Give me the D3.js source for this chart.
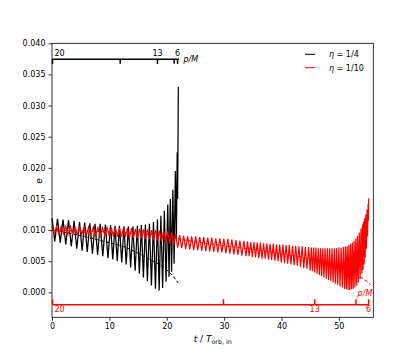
<!DOCTYPE html>
<html>
<head>
<meta charset="utf-8">
<script src="https://cdn.jsdelivr.net/npm/d3@7"></script>
<style>
body { margin: 0; background: #fff; }
text { font-family: "DejaVu Sans", sans-serif; }
</style>
</head>
<body>
<script>
// eccentricity vs time, eta = 1/4 (black) and eta = 1/10 (red)
const blackPts = [
  [0, .0119], [.48, .0082], [.96, .0118], [1.44, .0080], [1.92, .0117], [2.40, .0077],
  [2.88, .0116], [3.36, .0074], [3.84, .0115], [4.32, .0070], [4.80, .0113], [5.25, .0067],
  [5.70, .0112], [6.15, .0065], [6.60, .0111], [7.05, .0062], [7.50, .0110], [7.95, .0060],
  [8.40, .0110], [8.85, .0058], [9.30, .0109], [9.75, .0055], [10.20, .0108], [10.59, .0053],
  [10.98, .0107], [11.37, .0050], [11.76, .0107], [12.15, .0048], [12.54, .0106], [12.93, .0045],
  [13.32, .0106], [13.71, .0040], [14.10, .0106], [14.49, .0035], [14.88, .0107], [15.23, .0030],
  [15.58, .0108], [15.93, .0024], [16.28, .0109], [16.63, .0018], [16.98, .0110], [17.33, .0011],
  [17.68, .0113], [18.03, .0006], [18.38, .0117], [18.68, .0003], [18.98, .0123], [19.28, .0007],
  [19.58, .0131], [19.88, .0017], [20.18, .0141], [20.40, .0025], [20.62, .0150], [20.84, .0033],
  [21.06, .0165], [21.28, .0046], [21.50, .0195], [21.68, .0085], [21.82, .0225], [21.90, .0150],
  [22.02, .0330]
];

const redPts = [
  [0, .0106], [.4, .0094], [.8, .0106], [1.2, .0094], [1.6, .0106], [2.0, .0094], [2.4, .0106],
  [2.8, .0093], [3.2, .0106], [3.6, .0093], [4.0, .0105], [4.4, .0093], [4.8, .0105], [5.2, .0093],
  [5.6, .0105], [6.0, .0092], [6.4, .0105], [6.8, .0092], [7.2, .0105], [7.6, .0091], [8.0, .0104],
  [8.4, .0091], [8.8, .0104], [9.2, .0091], [9.6, .0104], [10.0, .0090],
  [10.35, .0104], [10.70, .0090], [11.05, .0104], [11.40, .0089], [11.75, .0103], [12.10, .0089],
  [12.45, .0103], [12.80, .0089], [13.15, .0103], [13.50, .0088], [13.85, .0103], [14.20, .0088],
  [14.55, .0102], [14.90, .0087], [15.25, .0102], [15.60, .0087], [15.95, .0101], [16.30, .0086],
  [16.65, .0101], [17.00, .0086], [17.35, .0100], [17.70, .0085], [18.05, .0100], [18.40, .0083],
  [18.75, .0099], [19.10, .0082], [19.45, .0099], [19.80, .0081], [20.15, .0098], [20.50, .0078],
  [20.85, .0096], [21.20, .0075], [21.55, .0094], [21.90, .0072], [22.25, .0092], [22.60, .0071],
  [22.95, .0091], [23.30, .0070], [23.65, .0090], [24.00, .0069], [24.35, .0090], [24.70, .0068],
  [25.05, .0090], [25.40, .0068], [25.75, .0089], [26.10, .0067], [26.45, .0089], [26.80, .0066],
  [27.15, .0088], [27.50, .0066], [27.85, .0088], [28.20, .0065], [28.55, .0087], [28.90, .0064],
  [29.25, .0087], [29.60, .0064], [29.95, .0086], [30.30, .0063], [30.65, .0086], [31.00, .0062],
  [31.35, .0085], [31.70, .0061], [32.05, .0084], [32.40, .0060], [32.75, .0083], [33.10, .0059],
  [33.45, .0083], [33.80, .0058],
  [34.08, .0082], [34.36, .0058], [34.64, .0081], [34.92, .0057], [35.20, .0081], [35.48, .0056],
  [35.76, .0080], [36.04, .0055], [36.32, .0080], [36.60, .0054], [36.88, .0079], [37.16, .0054],
  [37.44, .0079], [37.72, .0053], [38.00, .0078], [38.28, .0052], [38.56, .0078], [38.84, .0051],
  [39.12, .0077], [39.40, .0050], [39.68, .0077], [39.96, .0048], [40.24, .0077], [40.52, .0047],
  [40.80, .0076], [41.08, .0046], [41.36, .0076], [41.64, .0045], [41.92, .0075], [42.20, .0044],
  [42.48, .0075], [42.76, .0043], [43.04, .0074], [43.32, .0041], [43.60, .0074], [43.88, .0039],
  [44.16, .0073], [44.44, .0038], [44.72, .0073], [45.00, .0035],
  [45.2, .0072], [45.4, .0034], [45.6, .0072], [45.8, .0032], [46.0, .0072], [46.2, .0030],
  [46.4, .0071], [46.6, .0028], [46.8, .0071], [47.0, .0026], [47.2, .0071], [47.4, .0024],
  [47.6, .0071], [47.8, .0022], [48.0, .0071], [48.2, .0020], [48.4, .0071], [48.6, .0018],
  [48.8, .0071], [49.0, .0016], [49.2, .0071], [49.4, .0014], [49.6, .0071], [49.8, .0012],
  [50.0, .0072], [50.2, .0010], [50.4, .0072], [50.6, .0008], [50.8, .0073], [51.0, .0006],
  [51.15, .0074], [51.30, .0005], [51.45, .0074], [51.60, .0004], [51.75, .0076], [51.90, .0004],
  [52.05, .0078], [52.20, .0005], [52.35, .0080], [52.50, .0006], [52.65, .0083], [52.80, .0008],
  [52.95, .0087], [53.10, .0011], [53.25, .0091], [53.40, .0016], [53.55, .0096], [53.70, .0022],
  [53.85, .0102], [54.00, .0030],
  [54.10, .0109], [54.20, .0036], [54.30, .0114], [54.40, .0045], [54.50, .0119], [54.60, .0056],
  [54.70, .0125], [54.80, .0070], [54.90, .0133], [55.00, .0090], [55.10, .0142], [55.15, .0115],
  [55.20, .0151]
];

// secular (dashed) curves
const blackTrend = [[0, .0100], [3, .0095], [6, .0089], [9, .0082], [12, .0075], [15, .0063],
  [17, .0053], [18.5, .0046], [20, .0036], [21, .0027], [22, .0015]];
const redTrend = [[0, .0100], [10, .0097], [20, .0090], [25, .0081], [30, .0075], [35, .0069],
  [40, .0062], [45, .0054], [48, .0047], [51, .0036], [53, .0029], [55.5, .0013]];

// p/M secondary scales: time of each tick and its label
const blackPTickT = [0, 11.8, 18.3, 21.2, 21.8];
const redPTickT = [0, 29.8, 45.7, 52.9, 55.1];
const pTickLabels = ['20', '', '13', '', '6'];

const xTicks = [0, 10, 20, 30, 40, 50];
const yTicks = [0, .005, .01, .015, .02, .025, .03, .035, .04];
const legendNames = ['1/4', '1/10'];
const colors = ['#000000', '#ff0000'];

const W = 415, H = 363;
const m = { left: 52, top: 43.3, right: 41.7, bottom: 45.7 };

const svg = d3.select('body').append('svg')
  .attr('width', W)
  .attr('height', H);

const x = d3.scaleLinear().domain([0, 56]).range([m.left, W - m.right]);
const y = d3.scaleLinear().domain([-0.004, 0.04]).range([H - m.bottom, m.top]);

const line = d3.line().x(d => x(d[0])).y(d => y(d[1]));
const smooth = d3.line().x(d => x(d[0])).y(d => y(d[1])).curve(d3.curveMonotoneX);

const plot = svg.append('g');

plot.append('path').datum(blackPts)
  .attr('d', line).attr('fill', 'none')
  .attr('stroke', colors[0]).attr('stroke-width', 1.25);
plot.append('path').datum(blackTrend)
  .attr('d', smooth).attr('fill', 'none')
  .attr('stroke', colors[0]).attr('stroke-width', 1)
  .attr('stroke-dasharray', '3.5,2');
plot.append('path').datum(redPts)
  .attr('d', line).attr('fill', 'none')
  .attr('stroke', colors[1]).attr('stroke-width', 1.2);
plot.append('path').datum(redTrend)
  .attr('d', smooth).attr('fill', 'none')
  .attr('stroke', colors[1]).attr('stroke-width', 1)
  .attr('stroke-dasharray', '3.5,2');

// main axes
const xAxis = svg.append('g')
  .attr('transform', `translate(0,${H - m.bottom})`)
  .call(d3.axisBottom(x).tickValues(xTicks).tickFormat(d3.format('d'))
    .tickSizeOuter(0).tickSize(3.5).tickPadding(3));
const yAxis = svg.append('g')
  .attr('transform', `translate(${m.left},0)`)
  .call(d3.axisLeft(y).tickValues(yTicks).tickFormat(d3.format('.3f'))
    .tickSizeOuter(0).tickSize(3.5).tickPadding(3));

[xAxis, yAxis].forEach(g => {
  g.select('.domain').remove();
  g.selectAll('text').attr('font-size', 8).attr('fill', '#000')
    .attr('font-family', '"DejaVu Sans", sans-serif');
  g.selectAll('line').attr('stroke', '#000').attr('stroke-width', 0.8);
});

svg.append('rect')
  .attr('x', x(0)).attr('y', y(0.04))
  .attr('width', x(56) - x(0)).attr('height', y(-0.004) - y(0.04))
  .attr('fill', 'none').attr('stroke', '#000').attr('stroke-width', 0.8);

// p/M axis for eta = 1/4, along the top
const xTop = x.copy().domain([0, 22.05]).range([x(0), x(22.05)]);
const topAxis = svg.append('g')
  .attr('transform', `translate(0,${y(0.0375)})`)
  .call(d3.axisTop(xTop).tickValues(blackPTickT)
    .tickFormat((d, i) => pTickLabels[i])
    .tickSizeOuter(0).tickSizeInner(-5).tickPadding(2.5));
topAxis.select('.domain').attr('stroke', colors[0]).attr('stroke-width', 1.5);
topAxis.selectAll('line').attr('stroke', colors[0]).attr('stroke-width', 1.5);
topAxis.selectAll('text').attr('font-size', 8).attr('fill', colors[0])
  .attr('font-family', '"DejaVu Sans", sans-serif');
topAxis.select('.tick text').attr('text-anchor', 'start').attr('dx', 2);
svg.append('text')
  .attr('x', xTop(22.05) + 5).attr('y', y(0.0375) + 3)
  .attr('font-size', 8).attr('font-style', 'italic').attr('fill', colors[0])
  .text('p/M');

// p/M axis for eta = 1/10, along the bottom
const xBot = x.copy().domain([0, 55.2]).range([x(0), x(55.2)]);
const botAxis = svg.append('g')
  .attr('transform', `translate(0,${y(-0.0019)})`)
  .call(d3.axisBottom(xBot).tickValues(redPTickT)
    .tickFormat((d, i) => pTickLabels[i])
    .tickSizeOuter(0).tickSizeInner(-5).tickPadding(2.5));
botAxis.select('.domain').attr('stroke', colors[1]).attr('stroke-width', 1.5);
botAxis.selectAll('line').attr('stroke', colors[1]).attr('stroke-width', 1.5);
botAxis.selectAll('text').attr('font-size', 8).attr('fill', colors[1])
  .attr('font-family', '"DejaVu Sans", sans-serif');
botAxis.select('.tick text').attr('text-anchor', 'start').attr('dx', 2);
svg.append('text')
  .attr('x', x(56) - 1).attr('y', y(-0.0019) - 8.5)
  .attr('text-anchor', 'end')
  .attr('font-size', 8).attr('font-style', 'italic').attr('fill', colors[1])
  .text('p/M');

// axis labels
const xl = svg.append('text')
  .attr('x', (x(0) + x(56)) / 2).attr('y', 342)
  .attr('text-anchor', 'middle').attr('font-size', 9).attr('fill', '#000');
xl.append('tspan').attr('font-style', 'italic').text('t');
xl.append('tspan').text(' / ');
xl.append('tspan').attr('font-style', 'italic').text('T');
xl.append('tspan').attr('font-size', 6.3).attr('dy', 2).text('orb, in');

svg.append('text')
  .attr('transform', `translate(42,181) rotate(-90)`)
  .attr('text-anchor', 'middle')
  .attr('font-size', 9).attr('font-style', 'italic').attr('fill', '#000')
  .text('e');

// legend
const legend = svg.append('g');
legendNames.forEach((name, i) => {
  const ly = 54.3 + i * 13.4;
  legend.append('line')
    .attr('x1', 305).attr('x2', 315)
    .attr('y1', ly).attr('y2', ly)
    .attr('stroke', colors[i]).attr('stroke-width', 1);
  const t = legend.append('text')
    .attr('x', 329).attr('y', ly + 2.8)
    .attr('font-size', 8).attr('fill', '#000');
  t.append('tspan').attr('font-style', 'italic').text('η');
  t.append('tspan').text(' = ' + name);
});
</script>
</body>
</html>
